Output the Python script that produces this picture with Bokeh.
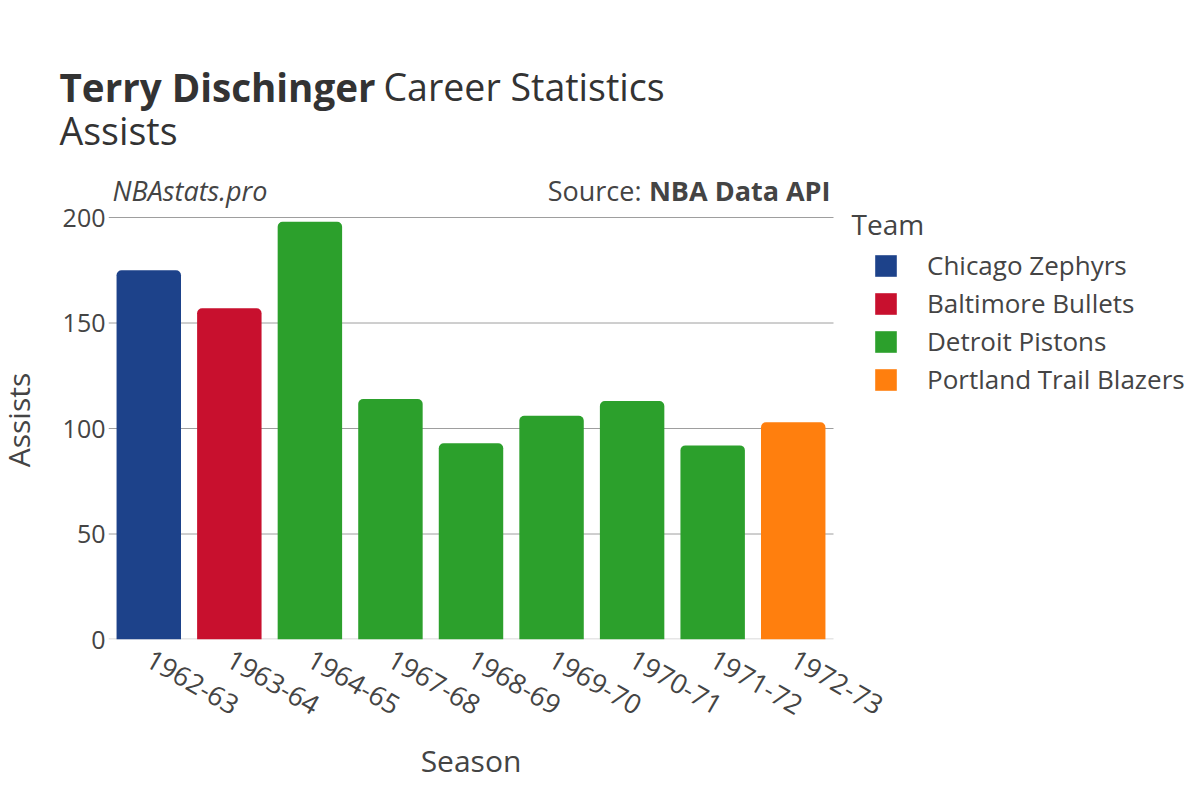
import math
from bokeh.plotting import figure
from bokeh.models import (Range1d, ColumnDataSource, Label, Legend, LegendItem,
                          FixedTicker)
from bokeh.embed import file_html
from bokeh.resources import INLINE

# ---------------- data ----------------
seasons = ["1962-63", "1963-64", "1964-65", "1967-68", "1968-69",
           "1969-70", "1970-71", "1971-72", "1972-73"]
assists = [175, 157, 198, 114, 93, 106, 113, 92, 103]
teams = ["Chicago Zephyrs", "Baltimore Bullets", "Detroit Pistons", "Detroit Pistons",
         "Detroit Pistons", "Detroit Pistons", "Detroit Pistons", "Detroit Pistons",
         "Portland Trail Blazers"]
team_names = ["Chicago Zephyrs", "Baltimore Bullets", "Detroit Pistons", "Portland Trail Blazers"]
team_colors = ["#1D428A", "#C8102E", "#2CA02C", "#FF7F0E"]
y_ticks = [0, 50, 100, 150, 200]

season_idx = list(range(len(seasons)))
color_of = dict(zip(team_names, team_colors))
source = ColumnDataSource(dict(x=season_idx, season=seasons, assists=assists, team=teams,
                               color=[color_of[t] for t in teams]))

FONT = "Open Sans"
TITLE_C = "#333333"
TXT = "#444444"

# ---------------- geometry (page pixels) ----------------
W, H = 1200, 784
FRAME_L, FRAME_T, FRAME_B = 108, 160, 639
PLOT_R = 833                      # right end of the bar area
CAT_PX = (PLOT_R - FRAME_L) / len(seasons)
PX_PER_UNIT = (639 - 217) / 200.0

x_start = -0.5
x_end = x_start + (W - FRAME_L) / CAT_PX
y_end = (FRAME_B - FRAME_T) / PX_PER_UNIT

p = figure(width=W, height=H, x_range=Range1d(x_start, x_end), y_range=Range1d(0, y_end),
           output_backend="svg", toolbar_location=None, title=None,
           min_border_left=FRAME_L, min_border_right=0, min_border_top=FRAME_T,
           min_border_bottom=H - FRAME_B)
p.outline_line_color = None
p.background_fill_color = "white"
p.border_fill_color = "white"
p.xgrid.visible = False
p.ygrid.visible = False

def dx(px):
    return x_start + (px - FRAME_L) / CAT_PX

def dy(py):
    return (FRAME_B - py) / PX_PER_UNIT

x_last = len(seasons) - 0.5

# zero line and horizontal grid lines across the category area only
grid_vals = [v for v in y_ticks if v > 0]
p.segment(x0=[x_start], x1=[x_last], y0=[0], y1=[0],
          line_color="#e6e6e6", line_width=3)
p.segment(x0=[x_start] * len(grid_vals), x1=[x_last] * len(grid_vals),
          y0=grid_vals, y1=grid_vals, line_color="#9e9e9e", line_width=1)

bars = p.vbar(x="x", top="assists", width=0.8, source=source,
              fill_color="color", line_color=None, border_radius=(5, 5, 0, 0))

# ---------------- axes ----------------
yax = p.yaxis[0]
yax.ticker = FixedTicker(ticks=y_ticks)
yax.axis_line_color = None
yax.major_tick_line_color = None
yax.minor_tick_line_color = None
yax.major_tick_out = 0
yax.major_tick_in = 0
yax.major_label_standoff = 3
yax.major_label_text_font = FONT
yax.major_label_text_font_size = "25px"
yax.major_label_text_color = TXT

xax = p.xaxis[0]
xax.ticker = FixedTicker(ticks=season_idx)
xax.major_label_overrides = {i: s for i, s in zip(season_idx, seasons)}
xax.axis_line_color = None
xax.major_tick_line_color = None
xax.minor_tick_line_color = None
xax.major_tick_out = 0
xax.major_tick_in = 0
xax.major_label_standoff = 17
xax.major_label_orientation = -math.pi / 6
xax.major_label_text_font = FONT
xax.major_label_text_font_size = "27px"
xax.major_label_text_color = TXT

# ---------------- texts ----------------
def lab(s, px, py, size, style="normal", align="left", color=TXT, place=None, angle=0.0):
    l = Label(x=dx(px), y=dy(py), text=s, text_font=FONT, text_font_size=size,
              text_font_style=style, text_align=align, text_baseline="alphabetic",
              text_color=color, angle=angle)
    if place is None:
        p.add_layout(l)
    else:
        p.add_layout(l, place)

lab("Terry Dischinger", 59, 86, "38.6px", "bold", color=TITLE_C, place="above")
lab("Career Statistics", 383, 86, "37.5px", color=TITLE_C, place="above")
lab("Assists", 59, 130, "37.5px", color=TITLE_C, place="above")
lab("NBAstats.pro", 112, 190, "27px", "italic")
lab("Source:", 641, 190, "27px", "normal", "right")
lab("NBA Data API", 830, 190, "27px", "bold", "right")
lab("Team", 851, 223, "28px")
# axis titles
lab("Season", (FRAME_L + PLOT_R) / 2, 760, "30px", align="center", place="below")
lab("Assists", 18, (200 + FRAME_B) / 2, "30px", align="center", place="left",
    angle=math.pi / 2)

# ---------------- legend ----------------
items = [LegendItem(label=name, renderers=[bars], index=teams.index(name))
         for name in team_names]
legend = Legend(items=items, location=(872 - FRAME_L, 242), orientation="vertical",
                glyph_width=27, glyph_height=27, label_standoff=28, spacing=2,
                padding=0, margin=0, border_line_color=None, background_fill_alpha=0,
                label_text_font=FONT, label_text_font_size="26px", label_text_color=TXT)
p.add_layout(legend)

open("out.html", "w").write(file_html(p, INLINE))
